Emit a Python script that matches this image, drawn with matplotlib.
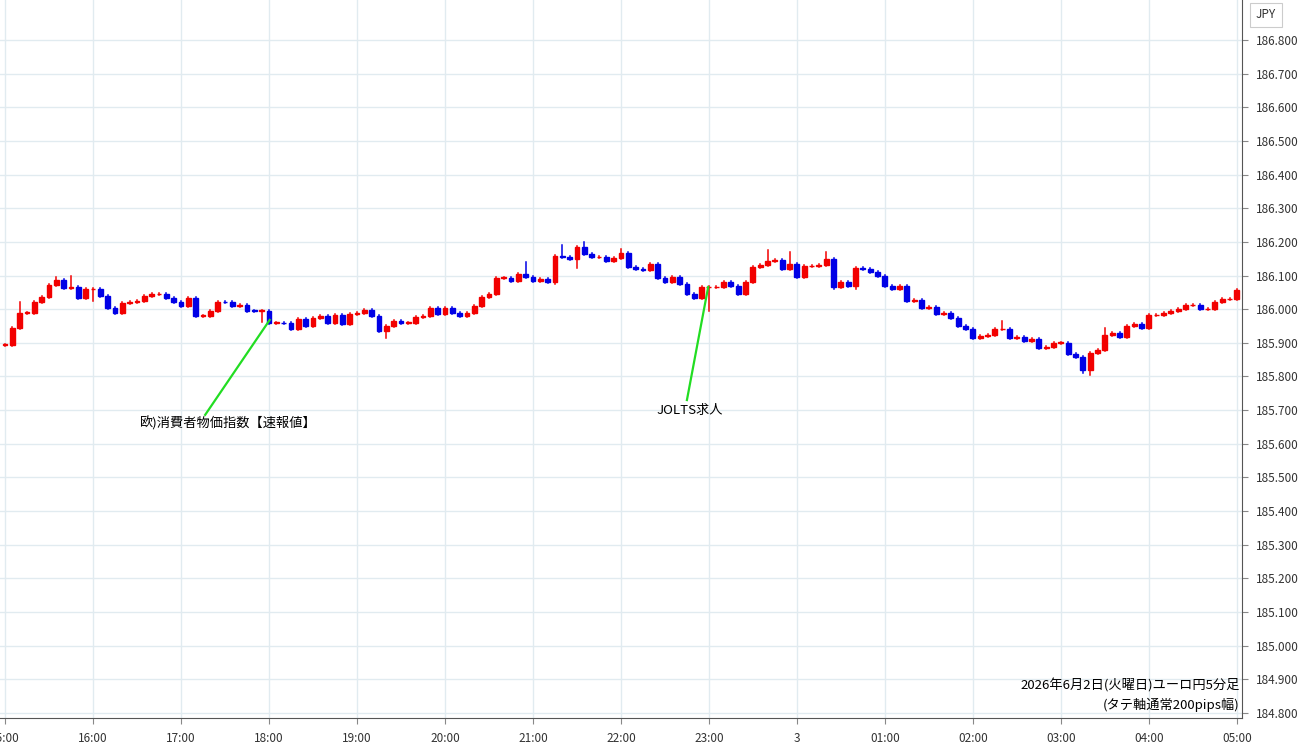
import numpy as np
import matplotlib.pyplot as plt
from matplotlib.patches import Rectangle

plt.rcParams['font.family'] = ['Noto Sans CJK JP', 'DejaVu Sans']

# 5-minute closes, EUR/JPY, 15:00 -> 05:00
closes = [
    185.894, 185.943, 185.990, 185.990, 186.020, 186.035, 186.072, 186.088, 186.062, 186.065,
    186.032, 186.060, 186.060, 186.040, 186.004, 185.990, 186.017, 186.020, 186.024, 186.040,
    186.044, 186.045, 186.032, 186.020, 186.010, 186.034, 185.980, 185.980, 185.994, 186.022,
    186.020, 186.010, 186.012, 185.996, 185.995, 185.996, 185.960, 185.960, 185.958, 185.940,
    185.970, 185.950, 185.975, 185.980, 185.960, 185.984, 185.955, 185.987, 185.990, 185.997,
    185.980, 185.935, 185.950, 185.965, 185.960, 185.960, 185.977, 185.980, 186.005, 185.985,
    186.005, 185.990, 185.980, 185.990, 186.010, 186.035, 186.045, 186.094, 186.094, 186.085,
    186.104, 186.095, 186.084, 186.090, 186.080, 186.158, 186.155, 186.150, 186.185, 186.165,
    186.155, 186.155, 186.143, 186.153, 186.168, 186.125, 186.120, 186.118, 186.135, 186.093,
    186.080, 186.095, 186.075, 186.045, 186.034, 186.065, 186.065, 186.065, 186.080, 186.070,
    186.046, 186.080, 186.125, 186.130, 186.143, 186.145, 186.120, 186.133, 186.095, 186.128,
    186.128, 186.130, 186.150, 186.067, 186.080, 186.070, 186.122, 186.120, 186.110, 186.100,
    186.070, 186.060, 186.070, 186.025, 186.028, 186.004, 186.008, 185.987, 185.988, 185.975,
    185.950, 185.940, 185.915, 185.920, 185.923, 185.940, 185.942, 185.914, 185.916, 185.906,
    185.910, 185.886, 185.888, 185.900, 185.900, 185.866, 185.857, 185.820, 185.870, 185.880,
    185.922, 185.928, 185.916, 185.950, 185.955, 185.944, 185.982, 185.983, 185.988, 185.995,
    186.000, 186.012, 186.012, 186.000, 186.000, 186.022, 186.030, 186.030, 186.058,
]
first_open = 185.894

# wicks that stick out noticeably: candle index -> (high, low)
wick_overrides = {
    2: (186.020, None), 7: (186.097, None), 9: (186.098, None), 12: (186.062, 186.025),
    35: (None, 185.963), 52: (None, 185.915), 71: (186.139, None), 75: (None, 186.075),
    76: (186.192, None), 78: (None, 186.123), 79: (186.200, None), 84: (186.180, None),
    96: (None, 185.996), 104: (186.177, None), 107: (186.171, None), 112: (186.171, None),
    113: (None, 186.060), 116: (None, 186.060), 136: (185.965, None), 147: (None, 185.810),
    148: (None, 185.805), 150: (185.945, None),
}

hour_labels = ['15:00', '16:00', '17:00', '18:00', '19:00', '20:00', '21:00', '22:00',
               '23:00', '3', '01:00', '02:00', '03:00', '04:00', '05:00']
price_ticks = np.round(np.arange(184.8, 186.81, 0.1), 1)

opens = [first_open] + closes[:-1]

fig = plt.figure(figsize=(13, 7.45), dpi=100)
ax = fig.add_axes([0, 1 - 718 / 745, 1242 / 1300, 718 / 745])

for i, (o, c) in enumerate(zip(opens, closes)):
    hi = max(o, c) + 0.003
    lo = min(o, c) - 0.003
    ov = wick_overrides.get(i)
    if ov:
        hi = ov[0] if ov[0] is not None else hi
        lo = ov[1] if ov[1] is not None else lo
    col = '#f20000' if c >= o else '#0000e6'
    ax.plot([i, i], [lo, hi], color=col, lw=1.1, zorder=3)
    h = max(abs(c - o), 0.0015)
    ax.add_patch(Rectangle((i - 0.33, min(o, c)), 0.66, h, color=col, zorder=4))

ax.set_xlim(-0.68, 168.7)
ax.set_ylim(184.785, 186.919)

ax.set_xticks(np.arange(0, 12 * len(hour_labels), 12))
ax.set_xticklabels(hour_labels, fontsize=8.5, color='#333333')
ax.set_yticks(price_ticks)
ax.set_yticklabels([f'{p:.3f}' for p in price_ticks], fontsize=8.5, color='#333333')
ax.yaxis.tick_right()
ax.tick_params(axis='y', length=4, pad=6, color='#888888')
ax.tick_params(axis='x', length=4, pad=6, color='#888888')
ax.grid(True, color='#e1ebf0', lw=1)
ax.set_axisbelow(True)
for s in ['top', 'left']:
    ax.spines[s].set_visible(False)
ax.spines['right'].set_color('#555555')
ax.spines['bottom'].set_color('#555555')

fig.text(1266 / 1300, 1 - 15 / 745, 'JPY', fontsize=8.5, ha='center', va='center',
         color='#333333',
         bbox=dict(boxstyle='square,pad=0.5', fc='white', ec='#cccccc', lw=0.8))

# event annotations
ax.plot([36.1, 27.3], [185.968, 185.686], color='#22dd22', lw=1.6, zorder=5)
ax.text(30.5, 185.66, '欧)消費者物価指数【速報値】', fontsize=9.5, ha='center', va='center')
ax.plot([95.9, 93.0], [186.066, 185.73], color='#22dd22', lw=1.6, zorder=5)
ax.text(93.4, 185.70, 'JOLTS求人', fontsize=9.5, ha='center', va='center')

ax.text(0.998, 0.045, '2026年6月2日(火曜日)ユーロ円5分足', transform=ax.transAxes,
        fontsize=9.5, ha='right', va='center')
ax.text(0.998, 0.018, '(タテ軸通常200pips幅)', transform=ax.transAxes,
        fontsize=9.5, ha='right', va='center')

fig.savefig('out.png', dpi=100)
